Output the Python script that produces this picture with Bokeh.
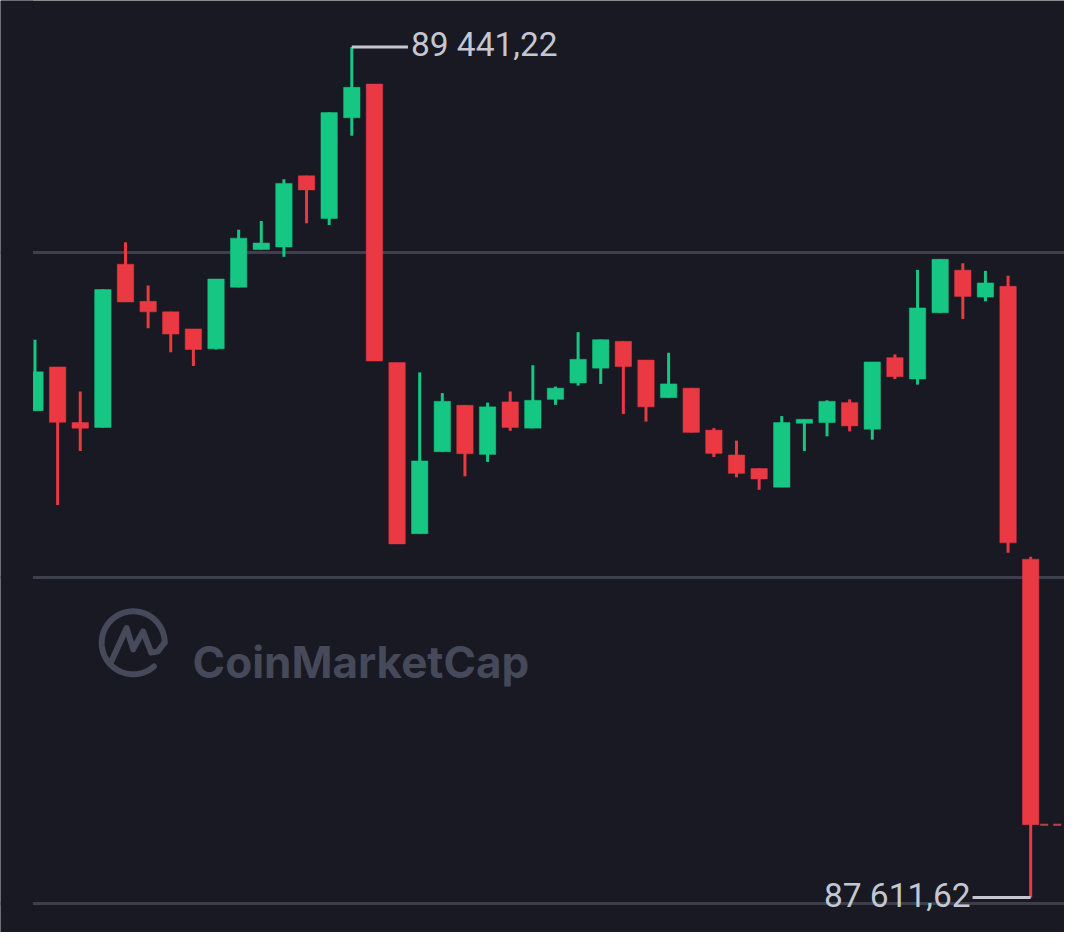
import numpy as np
from bokeh.plotting import figure
from bokeh.models import Range1d, FixedTicker, ColumnDataSource, BoxAnnotation
from bokeh.core.properties import value
from bokeh.embed import file_html
from bokeh.resources import INLINE

# ---------------- data (BTC 45 candles) ----------------
opens = [88658.9, 88753.2, 88633.5, 88622.9, 88974.0, 88894.3, 88871.6, 88835.0, 88792.1, 88924.5,
         89005.7, 89011.2, 89164.3, 89072.5, 89289.1, 89361.6, 88762.5, 88394.5, 88570.7, 88670.7,
         88565.0, 88677.9, 88621.5, 88683.4, 88718.7, 88750.5, 88808.2, 88768.0, 88687.0, 88707.5,
         88617.2, 88563.7, 88534.7, 88494.6, 88632.0, 88633.5, 88676.4, 88619.3, 88773.1, 88727.2,
         88869.5, 88961.3, 88903.4, 88926.6, 88339.5]
highs = [88811.8, 88753.2, 88700.3, 88919.6, 89021.1, 88928.1, 88871.6, 88835.0, 88942.3, 89048.0,
         89067.0, 89157.1, 89164.3, 89300.3, 89441.22, 89361.6, 88762.5, 88741.4, 88696.9, 88670.7,
         88676.4, 88700.3, 88756.8, 88710.9, 88828.1, 88811.8, 88808.2, 88768.0, 88783.7, 88707.5,
         88621.5, 88594.6, 88534.7, 88647.5, 88640.5, 88681.3, 88683.4, 88763.8, 88780.1, 88961.9,
         88984.6, 88976.1, 88959.8, 88949.2, 88345.0]
lows = [88658.9, 88455.9, 88572.2, 88622.9, 88892.8, 88836.5, 88784.9, 88755.3, 88790.6, 88924.5,
        89005.7, 88990.1, 89062.0, 89058.6, 89250.2, 88765.9, 88372.5, 88394.5, 88570.7, 88517.8,
        88548.9, 88615.7, 88621.5, 88671.6, 88713.0, 88716.6, 88651.7, 88635.6, 88687.0, 88612.4,
        88559.5, 88515.7, 88488.9, 88494.6, 88572.2, 88603.9, 88614.5, 88596.7, 88727.2, 88715.1,
        88869.5, 88856.2, 88894.3, 88353.5, 87611.62]
closes = [88742.6, 88634.1, 88621.5, 88919.6, 88892.8, 88871.6, 88823.8, 88790.6, 88942.3, 89030.2,
          89019.7, 89148.0, 89133.9, 89300.3, 89354.6, 88765.9, 88372.5, 88551.0, 88679.2, 88566.5,
          88667.3, 88622.9, 88681.3, 88707.5, 88769.5, 88811.8, 88754.0, 88667.3, 88716.6, 88612.4,
          88567.1, 88524.2, 88512.1, 88633.5, 88640.5, 88679.2, 88626.3, 88763.8, 88732.1, 88880.1,
          88984.6, 88904.8, 88933.8, 88374.7, 87768.6]
grid_levels = [87600, 88300, 89000]
watermark_text = "CoinMarketCap"

# ---------------- styles ----------------
BG = "#181922"
GREEN = "#16c784"
RED = "#ea3943"
GRID = "#3d3f4d"
LABEL = "#c4c7d2"
WM = "#454959"

W, H = 1064, 932
REF_W, REF_H = 1080, 948          # layout of the original picture
SCALE = W / REF_W


# layout helpers: original-picture pixel -> data space (used for ranges & decoration)
def px2x(px):
    return (np.asarray(px) - 35.0) / 22.97


def py2y(py):
    return 89000.0 - (np.asarray(py) - 256.0) * 700.0 / 331.0


X_START, X_END = float(px2x(0)), float(px2x(REF_W))
Y_START, Y_END = float(py2y(REF_H)), float(py2y(0))
PX_PER_X = 22.97  # original pixels per candle


def fmt(v):
    return f"{v:,.2f}".replace(",", " ").replace(".", ",")


n = len(opens)
idx = np.arange(n)
o = np.array(opens); c = np.array(closes); hi = np.array(highs); lo = np.array(lows)
up = c >= o
colors = [GREEN if u else RED for u in up]

src = ColumnDataSource(dict(
    x=idx, top=np.maximum(o, c), bottom=np.minimum(o, c), high=hi, low=lo, color=colors))

p = figure(width=W, height=H, output_backend="svg", toolbar_location=None,
           x_range=Range1d(X_START, X_END), y_range=Range1d(Y_START, Y_END),
           min_border_left=0, min_border_right=0, min_border_top=0, min_border_bottom=0,
           background_fill_color=BG, border_fill_color=BG, outline_line_color=None)
p.outline_line_alpha = 0
p.xaxis.visible = False
p.yaxis.visible = False
p.xgrid.visible = False
p.ygrid.ticker = FixedTicker(ticks=grid_levels)
p.ygrid.grid_line_color = GRID
p.ygrid.grid_line_width = 3

# watermark logo + text
ang = np.radians(np.linspace(0, 311, 120))
cx, cy, r = 134.7, 653.3, 32.0
ring_px = cx + r * np.cos(ang)
ring_py = cy - r * np.sin(ang)
p.line(px2x(ring_px), py2y(ring_py), line_color=WM, line_width=6, line_cap="round", line_join="round")
m_px = np.array([111.3, 128.0, 134.7, 144.7, 153.0, 160.0, 166.3])
m_py = np.array([675.0, 638.3, 660.0, 641.7, 663.3, 662.0, 653.3])
p.line(px2x(m_px), py2y(m_py), line_color=WM, line_width=6, line_cap="round", line_join="round")
p.text(x=[float(px2x(195))], y=[float(py2y(673))], text=[watermark_text], text_color=WM,
       text_font=value("Inter"), text_font_size="44px", text_font_style="bold",
       text_align="left", text_baseline="alphabetic")

# candles
p.segment(x0="x", y0="low", x1="x", y1="high", color="color", line_width=3, source=src)
p.vbar(x="x", width=0.725, top="top", bottom="bottom", fill_color="color", line_color="color",
       line_width=0.5, source=src)

# chart area starts a little right of the picture's left edge
p.add_layout(BoxAnnotation(right=float(px2x(33)), fill_color=BG, fill_alpha=1.0,
                           line_color=None, level="overlay"))

# last price dashed line
p.segment(x0=[n - 1 + 0.42], y0=[closes[-1]], x1=[X_END + 1], y1=[closes[-1]],
          line_color="#b3434b", line_width=2, line_dash="8 5")

# high / low labels
ih = int(np.argmax(hi)); il = int(np.argmin(lo))
p.segment(x0=[ih], y0=[highs[ih]], x1=[ih + 57 / PX_PER_X], y1=[highs[ih]], line_color=LABEL, line_width=3)
p.text(x=[ih + 60 / PX_PER_X], y=[highs[ih]], text=[fmt(highs[ih])], text_color=LABEL,
       text_font=value("Roboto"), text_font_size="33.5px", text_align="left", text_baseline="middle",
       y_offset=-3)
p.segment(x0=[il], y0=[lows[il]], x1=[il - 59 / PX_PER_X], y1=[lows[il]], line_color=LABEL, line_width=3)
p.text(x=[il - 61 / PX_PER_X], y=[lows[il]], text=[fmt(lows[il])], text_color=LABEL,
       text_font=value("Roboto"), text_font_size="33.5px", text_align="right", text_baseline="middle",
       y_offset=-2)

html = file_html(p, INLINE)
html = html.replace("<body>", '<body style="background-color:%s;">' % BG, 1)
open("out.html", "w").write(html)
